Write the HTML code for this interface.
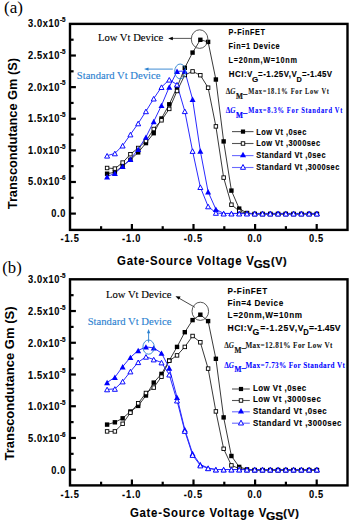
<!DOCTYPE html>
<html><head><meta charset="utf-8"><style>
html,body{margin:0;padding:0;background:#fff;}
body{width:350px;height:523px;overflow:hidden;}
svg{display:block;}
</style></head><body>
<svg width="350" height="523" viewBox="0 0 350 523">
<rect width="350" height="523" fill="#fff"/>
<rect x="70.0" y="23.9" width="277.5" height="206.00" fill="none" stroke="#000" stroke-width="2.4"/>
<line x1="70.0" y1="39.71" x2="73.6" y2="39.71" stroke="#000" stroke-width="2.2"/>
<line x1="70.0" y1="55.52" x2="75.9" y2="55.52" stroke="#000" stroke-width="2.2"/>
<line x1="70.0" y1="71.32" x2="73.6" y2="71.32" stroke="#000" stroke-width="2.2"/>
<line x1="70.0" y1="87.13" x2="75.9" y2="87.13" stroke="#000" stroke-width="2.2"/>
<line x1="70.0" y1="102.94" x2="73.6" y2="102.94" stroke="#000" stroke-width="2.2"/>
<line x1="70.0" y1="118.75" x2="75.9" y2="118.75" stroke="#000" stroke-width="2.2"/>
<line x1="70.0" y1="134.56" x2="73.6" y2="134.56" stroke="#000" stroke-width="2.2"/>
<line x1="70.0" y1="150.37" x2="75.9" y2="150.37" stroke="#000" stroke-width="2.2"/>
<line x1="70.0" y1="166.17" x2="73.6" y2="166.17" stroke="#000" stroke-width="2.2"/>
<line x1="70.0" y1="181.98" x2="75.9" y2="181.98" stroke="#000" stroke-width="2.2"/>
<line x1="70.0" y1="197.79" x2="73.6" y2="197.79" stroke="#000" stroke-width="2.2"/>
<line x1="70.0" y1="213.60" x2="75.9" y2="213.60" stroke="#000" stroke-width="2.2"/>
<line x1="101.10" y1="229.90" x2="101.10" y2="226.20" stroke="#000" stroke-width="2.2"/>
<line x1="131.90" y1="229.90" x2="131.90" y2="224.00" stroke="#000" stroke-width="2.2"/>
<line x1="162.70" y1="229.90" x2="162.70" y2="226.20" stroke="#000" stroke-width="2.2"/>
<line x1="193.50" y1="229.90" x2="193.50" y2="224.00" stroke="#000" stroke-width="2.2"/>
<line x1="224.30" y1="229.90" x2="224.30" y2="226.20" stroke="#000" stroke-width="2.2"/>
<line x1="255.10" y1="229.90" x2="255.10" y2="224.00" stroke="#000" stroke-width="2.2"/>
<line x1="285.90" y1="229.90" x2="285.90" y2="226.20" stroke="#000" stroke-width="2.2"/>
<line x1="316.70" y1="229.90" x2="316.70" y2="224.00" stroke="#000" stroke-width="2.2"/>
<text transform="scale(0.9,1)" x="31.11" y="27.40" font-family='"Liberation Sans", sans-serif' font-size="10.3" font-weight="bold" fill="#000" stroke="#000" stroke-width="0.1" textLength="34.89" lengthAdjust="spacing">3.0x10</text>
<text x="59.90" y="22.10" font-family='"Liberation Sans", sans-serif' font-size="6.3" font-weight="bold" fill="#000" text-anchor="start" textLength="5.60" lengthAdjust="spacingAndGlyphs" stroke="#000" stroke-width="0.2">-5</text>
<text transform="scale(0.9,1)" x="31.11" y="59.02" font-family='"Liberation Sans", sans-serif' font-size="10.3" font-weight="bold" fill="#000" stroke="#000" stroke-width="0.1" textLength="34.89" lengthAdjust="spacing">2.5x10</text>
<text x="59.90" y="53.72" font-family='"Liberation Sans", sans-serif' font-size="6.3" font-weight="bold" fill="#000" text-anchor="start" textLength="5.60" lengthAdjust="spacingAndGlyphs" stroke="#000" stroke-width="0.2">-5</text>
<text transform="scale(0.9,1)" x="31.11" y="90.63" font-family='"Liberation Sans", sans-serif' font-size="10.3" font-weight="bold" fill="#000" stroke="#000" stroke-width="0.1" textLength="34.89" lengthAdjust="spacing">2.0x10</text>
<text x="59.90" y="85.33" font-family='"Liberation Sans", sans-serif' font-size="6.3" font-weight="bold" fill="#000" text-anchor="start" textLength="5.60" lengthAdjust="spacingAndGlyphs" stroke="#000" stroke-width="0.2">-5</text>
<text transform="scale(0.9,1)" x="31.11" y="122.25" font-family='"Liberation Sans", sans-serif' font-size="10.3" font-weight="bold" fill="#000" stroke="#000" stroke-width="0.1" textLength="34.89" lengthAdjust="spacing">1.5x10</text>
<text x="59.90" y="116.95" font-family='"Liberation Sans", sans-serif' font-size="6.3" font-weight="bold" fill="#000" text-anchor="start" textLength="5.60" lengthAdjust="spacingAndGlyphs" stroke="#000" stroke-width="0.2">-5</text>
<text transform="scale(0.9,1)" x="31.11" y="153.87" font-family='"Liberation Sans", sans-serif' font-size="10.3" font-weight="bold" fill="#000" stroke="#000" stroke-width="0.1" textLength="34.89" lengthAdjust="spacing">1.0x10</text>
<text x="59.90" y="148.57" font-family='"Liberation Sans", sans-serif' font-size="6.3" font-weight="bold" fill="#000" text-anchor="start" textLength="5.60" lengthAdjust="spacingAndGlyphs" stroke="#000" stroke-width="0.2">-5</text>
<text transform="scale(0.9,1)" x="31.11" y="185.48" font-family='"Liberation Sans", sans-serif' font-size="10.3" font-weight="bold" fill="#000" stroke="#000" stroke-width="0.1" textLength="34.89" lengthAdjust="spacing">5.0x10</text>
<text x="59.90" y="180.18" font-family='"Liberation Sans", sans-serif' font-size="6.3" font-weight="bold" fill="#000" text-anchor="start" textLength="5.60" lengthAdjust="spacingAndGlyphs" stroke="#000" stroke-width="0.2">-6</text>
<text transform="scale(0.9,1)" x="57.00" y="217.10" font-family='"Liberation Sans", sans-serif' font-size="10.3" font-weight="bold" fill="#000" stroke="#000" stroke-width="0.1" textLength="15.56" lengthAdjust="spacing">0.0</text>
<text transform="scale(0.9,1)" x="67.22" y="242.30" font-family='"Liberation Sans", sans-serif' font-size="10.3" font-weight="bold" fill="#000" stroke="#000" stroke-width="0.1" textLength="20.44" lengthAdjust="spacing">-1.5</text>
<text transform="scale(0.9,1)" x="135.67" y="242.30" font-family='"Liberation Sans", sans-serif' font-size="10.3" font-weight="bold" fill="#000" stroke="#000" stroke-width="0.1" textLength="20.44" lengthAdjust="spacing">-1.0</text>
<text transform="scale(0.9,1)" x="204.11" y="242.30" font-family='"Liberation Sans", sans-serif' font-size="10.3" font-weight="bold" fill="#000" stroke="#000" stroke-width="0.1" textLength="20.44" lengthAdjust="spacing">-0.5</text>
<text transform="scale(0.9,1)" x="274.89" y="242.30" font-family='"Liberation Sans", sans-serif' font-size="10.3" font-weight="bold" fill="#000" stroke="#000" stroke-width="0.1" textLength="15.78" lengthAdjust="spacing">0.0</text>
<text transform="scale(0.9,1)" x="343.33" y="242.30" font-family='"Liberation Sans", sans-serif' font-size="10.3" font-weight="bold" fill="#000" stroke="#000" stroke-width="0.1" textLength="15.78" lengthAdjust="spacing">0.5</text>
<rect x="70.0" y="279.3" width="277.5" height="206.10" fill="none" stroke="#000" stroke-width="2.4"/>
<line x1="70.0" y1="295.17" x2="73.6" y2="295.17" stroke="#000" stroke-width="2.2"/>
<line x1="70.0" y1="311.03" x2="75.9" y2="311.03" stroke="#000" stroke-width="2.2"/>
<line x1="70.0" y1="326.90" x2="73.6" y2="326.90" stroke="#000" stroke-width="2.2"/>
<line x1="70.0" y1="342.77" x2="75.9" y2="342.77" stroke="#000" stroke-width="2.2"/>
<line x1="70.0" y1="358.63" x2="73.6" y2="358.63" stroke="#000" stroke-width="2.2"/>
<line x1="70.0" y1="374.50" x2="75.9" y2="374.50" stroke="#000" stroke-width="2.2"/>
<line x1="70.0" y1="390.37" x2="73.6" y2="390.37" stroke="#000" stroke-width="2.2"/>
<line x1="70.0" y1="406.23" x2="75.9" y2="406.23" stroke="#000" stroke-width="2.2"/>
<line x1="70.0" y1="422.10" x2="73.6" y2="422.10" stroke="#000" stroke-width="2.2"/>
<line x1="70.0" y1="437.97" x2="75.9" y2="437.97" stroke="#000" stroke-width="2.2"/>
<line x1="70.0" y1="453.83" x2="73.6" y2="453.83" stroke="#000" stroke-width="2.2"/>
<line x1="70.0" y1="469.70" x2="75.9" y2="469.70" stroke="#000" stroke-width="2.2"/>
<line x1="101.10" y1="485.40" x2="101.10" y2="481.70" stroke="#000" stroke-width="2.2"/>
<line x1="131.90" y1="485.40" x2="131.90" y2="479.50" stroke="#000" stroke-width="2.2"/>
<line x1="162.70" y1="485.40" x2="162.70" y2="481.70" stroke="#000" stroke-width="2.2"/>
<line x1="193.50" y1="485.40" x2="193.50" y2="479.50" stroke="#000" stroke-width="2.2"/>
<line x1="224.30" y1="485.40" x2="224.30" y2="481.70" stroke="#000" stroke-width="2.2"/>
<line x1="255.10" y1="485.40" x2="255.10" y2="479.50" stroke="#000" stroke-width="2.2"/>
<line x1="285.90" y1="485.40" x2="285.90" y2="481.70" stroke="#000" stroke-width="2.2"/>
<line x1="316.70" y1="485.40" x2="316.70" y2="479.50" stroke="#000" stroke-width="2.2"/>
<text transform="scale(0.9,1)" x="31.11" y="283.40" font-family='"Liberation Sans", sans-serif' font-size="10.3" font-weight="bold" fill="#000" stroke="#000" stroke-width="0.1" textLength="34.89" lengthAdjust="spacing">3.0x10</text>
<text x="59.90" y="278.10" font-family='"Liberation Sans", sans-serif' font-size="6.3" font-weight="bold" fill="#000" text-anchor="start" textLength="5.60" lengthAdjust="spacingAndGlyphs" stroke="#000" stroke-width="0.2">-5</text>
<text transform="scale(0.9,1)" x="31.11" y="315.13" font-family='"Liberation Sans", sans-serif' font-size="10.3" font-weight="bold" fill="#000" stroke="#000" stroke-width="0.1" textLength="34.89" lengthAdjust="spacing">2.5x10</text>
<text x="59.90" y="309.83" font-family='"Liberation Sans", sans-serif' font-size="6.3" font-weight="bold" fill="#000" text-anchor="start" textLength="5.60" lengthAdjust="spacingAndGlyphs" stroke="#000" stroke-width="0.2">-5</text>
<text transform="scale(0.9,1)" x="31.11" y="346.87" font-family='"Liberation Sans", sans-serif' font-size="10.3" font-weight="bold" fill="#000" stroke="#000" stroke-width="0.1" textLength="34.89" lengthAdjust="spacing">2.0x10</text>
<text x="59.90" y="341.57" font-family='"Liberation Sans", sans-serif' font-size="6.3" font-weight="bold" fill="#000" text-anchor="start" textLength="5.60" lengthAdjust="spacingAndGlyphs" stroke="#000" stroke-width="0.2">-5</text>
<text transform="scale(0.9,1)" x="31.11" y="378.60" font-family='"Liberation Sans", sans-serif' font-size="10.3" font-weight="bold" fill="#000" stroke="#000" stroke-width="0.1" textLength="34.89" lengthAdjust="spacing">1.5x10</text>
<text x="59.90" y="373.30" font-family='"Liberation Sans", sans-serif' font-size="6.3" font-weight="bold" fill="#000" text-anchor="start" textLength="5.60" lengthAdjust="spacingAndGlyphs" stroke="#000" stroke-width="0.2">-5</text>
<text transform="scale(0.9,1)" x="31.11" y="410.33" font-family='"Liberation Sans", sans-serif' font-size="10.3" font-weight="bold" fill="#000" stroke="#000" stroke-width="0.1" textLength="34.89" lengthAdjust="spacing">1.0x10</text>
<text x="59.90" y="405.03" font-family='"Liberation Sans", sans-serif' font-size="6.3" font-weight="bold" fill="#000" text-anchor="start" textLength="5.60" lengthAdjust="spacingAndGlyphs" stroke="#000" stroke-width="0.2">-5</text>
<text transform="scale(0.9,1)" x="31.11" y="442.07" font-family='"Liberation Sans", sans-serif' font-size="10.3" font-weight="bold" fill="#000" stroke="#000" stroke-width="0.1" textLength="34.89" lengthAdjust="spacing">5.0x10</text>
<text x="59.90" y="436.77" font-family='"Liberation Sans", sans-serif' font-size="6.3" font-weight="bold" fill="#000" text-anchor="start" textLength="5.60" lengthAdjust="spacingAndGlyphs" stroke="#000" stroke-width="0.2">-6</text>
<text transform="scale(0.9,1)" x="57.00" y="473.80" font-family='"Liberation Sans", sans-serif' font-size="10.3" font-weight="bold" fill="#000" stroke="#000" stroke-width="0.1" textLength="15.56" lengthAdjust="spacing">0.0</text>
<text transform="scale(0.9,1)" x="67.22" y="497.80" font-family='"Liberation Sans", sans-serif' font-size="10.3" font-weight="bold" fill="#000" stroke="#000" stroke-width="0.1" textLength="20.44" lengthAdjust="spacing">-1.5</text>
<text transform="scale(0.9,1)" x="135.67" y="497.80" font-family='"Liberation Sans", sans-serif' font-size="10.3" font-weight="bold" fill="#000" stroke="#000" stroke-width="0.1" textLength="20.44" lengthAdjust="spacing">-1.0</text>
<text transform="scale(0.9,1)" x="204.11" y="497.80" font-family='"Liberation Sans", sans-serif' font-size="10.3" font-weight="bold" fill="#000" stroke="#000" stroke-width="0.1" textLength="20.44" lengthAdjust="spacing">-0.5</text>
<text transform="scale(0.9,1)" x="274.89" y="497.80" font-family='"Liberation Sans", sans-serif' font-size="10.3" font-weight="bold" fill="#000" stroke="#000" stroke-width="0.1" textLength="15.78" lengthAdjust="spacing">0.0</text>
<text transform="scale(0.9,1)" x="343.33" y="497.80" font-family='"Liberation Sans", sans-serif' font-size="10.3" font-weight="bold" fill="#000" stroke="#000" stroke-width="0.1" textLength="15.78" lengthAdjust="spacing">0.5</text>
<polyline points="107.10,173.70 114.87,172.30 122.64,165.80 130.41,159.80 138.18,152.40 145.95,143.10 153.72,133.20 161.49,118.50 169.26,104.30 177.03,87.40 184.80,67.80 192.57,52.60 200.34,39.80 208.11,41.90 215.88,79.50 223.65,141.40 231.42,190.60 239.19,208.60 246.96,213.00 254.73,214.00 262.50,214.00 270.27,214.00 278.04,214.00 285.81,214.00 293.58,214.00 301.35,214.00 309.12,214.00 316.89,214.00" fill="none" stroke="#222" stroke-width="0.9"/>
<polyline points="107.10,168.00 114.87,168.60 122.64,162.60 130.41,154.20 138.18,148.00 145.95,141.00 153.72,129.00 161.49,120.30 169.26,108.90 177.03,91.00 184.80,75.00 192.57,71.40 200.34,75.20 208.11,87.70 215.88,126.40 223.65,177.60 231.42,204.70 239.19,211.00 246.96,213.60 254.73,214.00 262.50,214.00 270.27,214.00 278.04,214.00 285.81,214.00 293.58,214.00 301.35,214.00 309.12,214.00 316.89,214.00" fill="none" stroke="#222" stroke-width="0.9"/>
<polyline points="107.10,176.70 114.87,173.30 122.64,166.40 130.41,159.30 138.18,149.20 145.95,137.10 153.72,121.50 161.49,105.40 169.26,87.00 177.03,71.30 184.80,71.10 192.57,99.20 200.34,151.00 208.11,191.80 215.88,209.30 223.65,213.40 231.42,213.40 239.19,213.40 246.96,213.40 254.73,213.40 262.50,213.40 270.27,213.40 278.04,213.40 285.81,213.40 293.58,213.40 301.35,213.40 309.12,213.40 316.89,213.40" fill="none" stroke="#2a2aff" stroke-width="1.0"/>
<polyline points="107.10,155.70 114.87,153.40 122.64,145.60 130.41,134.50 138.18,123.40 145.95,111.30 153.72,98.60 161.49,87.10 169.26,79.70 177.03,84.60 184.80,111.20 192.57,151.00 200.34,187.10 208.11,206.40 215.88,212.90 223.65,213.60 231.42,213.60 239.19,213.60 246.96,213.60 254.73,213.60 262.50,213.60 270.27,213.60 278.04,213.60 285.81,213.60 293.58,213.60 301.35,213.60 309.12,213.60 316.89,213.60" fill="none" stroke="#2a2aff" stroke-width="1.0"/>
<rect x="104.90" y="171.50" width="4.4" height="4.4" fill="#000"/>
<rect x="112.67" y="170.10" width="4.4" height="4.4" fill="#000"/>
<rect x="120.44" y="163.60" width="4.4" height="4.4" fill="#000"/>
<rect x="128.21" y="157.60" width="4.4" height="4.4" fill="#000"/>
<rect x="135.98" y="150.20" width="4.4" height="4.4" fill="#000"/>
<rect x="143.75" y="140.90" width="4.4" height="4.4" fill="#000"/>
<rect x="151.52" y="131.00" width="4.4" height="4.4" fill="#000"/>
<rect x="159.29" y="116.30" width="4.4" height="4.4" fill="#000"/>
<rect x="167.06" y="102.10" width="4.4" height="4.4" fill="#000"/>
<rect x="174.83" y="85.20" width="4.4" height="4.4" fill="#000"/>
<rect x="182.60" y="65.60" width="4.4" height="4.4" fill="#000"/>
<rect x="190.37" y="50.40" width="4.4" height="4.4" fill="#000"/>
<rect x="198.14" y="37.60" width="4.4" height="4.4" fill="#000"/>
<rect x="205.91" y="39.70" width="4.4" height="4.4" fill="#000"/>
<rect x="213.68" y="77.30" width="4.4" height="4.4" fill="#000"/>
<rect x="221.45" y="139.20" width="4.4" height="4.4" fill="#000"/>
<rect x="229.22" y="188.40" width="4.4" height="4.4" fill="#000"/>
<rect x="236.99" y="206.40" width="4.4" height="4.4" fill="#000"/>
<rect x="244.76" y="210.80" width="4.4" height="4.4" fill="#000"/>
<rect x="252.53" y="211.80" width="4.4" height="4.4" fill="#000"/>
<rect x="260.30" y="211.80" width="4.4" height="4.4" fill="#000"/>
<rect x="268.07" y="211.80" width="4.4" height="4.4" fill="#000"/>
<rect x="275.84" y="211.80" width="4.4" height="4.4" fill="#000"/>
<rect x="283.61" y="211.80" width="4.4" height="4.4" fill="#000"/>
<rect x="291.38" y="211.80" width="4.4" height="4.4" fill="#000"/>
<rect x="299.15" y="211.80" width="4.4" height="4.4" fill="#000"/>
<rect x="306.92" y="211.80" width="4.4" height="4.4" fill="#000"/>
<rect x="314.69" y="211.80" width="4.4" height="4.4" fill="#000"/>
<rect x="105.35" y="166.25" width="3.50" height="3.50" fill="#fff" stroke="#000" stroke-width="0.9"/>
<rect x="113.12" y="166.85" width="3.50" height="3.50" fill="#fff" stroke="#000" stroke-width="0.9"/>
<rect x="120.89" y="160.85" width="3.50" height="3.50" fill="#fff" stroke="#000" stroke-width="0.9"/>
<rect x="128.66" y="152.45" width="3.50" height="3.50" fill="#fff" stroke="#000" stroke-width="0.9"/>
<rect x="136.43" y="146.25" width="3.50" height="3.50" fill="#fff" stroke="#000" stroke-width="0.9"/>
<rect x="144.20" y="139.25" width="3.50" height="3.50" fill="#fff" stroke="#000" stroke-width="0.9"/>
<rect x="151.97" y="127.25" width="3.50" height="3.50" fill="#fff" stroke="#000" stroke-width="0.9"/>
<rect x="159.74" y="118.55" width="3.50" height="3.50" fill="#fff" stroke="#000" stroke-width="0.9"/>
<rect x="167.51" y="107.15" width="3.50" height="3.50" fill="#fff" stroke="#000" stroke-width="0.9"/>
<rect x="175.28" y="89.25" width="3.50" height="3.50" fill="#fff" stroke="#000" stroke-width="0.9"/>
<rect x="183.05" y="73.25" width="3.50" height="3.50" fill="#fff" stroke="#000" stroke-width="0.9"/>
<rect x="190.82" y="69.65" width="3.50" height="3.50" fill="#fff" stroke="#000" stroke-width="0.9"/>
<rect x="198.59" y="73.45" width="3.50" height="3.50" fill="#fff" stroke="#000" stroke-width="0.9"/>
<rect x="206.36" y="85.95" width="3.50" height="3.50" fill="#fff" stroke="#000" stroke-width="0.9"/>
<rect x="214.13" y="124.65" width="3.50" height="3.50" fill="#fff" stroke="#000" stroke-width="0.9"/>
<rect x="221.90" y="175.85" width="3.50" height="3.50" fill="#fff" stroke="#000" stroke-width="0.9"/>
<rect x="229.67" y="202.95" width="3.50" height="3.50" fill="#fff" stroke="#000" stroke-width="0.9"/>
<rect x="237.44" y="209.25" width="3.50" height="3.50" fill="#fff" stroke="#000" stroke-width="0.9"/>
<rect x="245.21" y="211.85" width="3.50" height="3.50" fill="#fff" stroke="#000" stroke-width="0.9"/>
<rect x="252.98" y="212.25" width="3.50" height="3.50" fill="#fff" stroke="#000" stroke-width="0.9"/>
<rect x="260.75" y="212.25" width="3.50" height="3.50" fill="#fff" stroke="#000" stroke-width="0.9"/>
<rect x="268.52" y="212.25" width="3.50" height="3.50" fill="#fff" stroke="#000" stroke-width="0.9"/>
<rect x="276.29" y="212.25" width="3.50" height="3.50" fill="#fff" stroke="#000" stroke-width="0.9"/>
<rect x="284.06" y="212.25" width="3.50" height="3.50" fill="#fff" stroke="#000" stroke-width="0.9"/>
<rect x="291.83" y="212.25" width="3.50" height="3.50" fill="#fff" stroke="#000" stroke-width="0.9"/>
<rect x="299.60" y="212.25" width="3.50" height="3.50" fill="#fff" stroke="#000" stroke-width="0.9"/>
<rect x="307.37" y="212.25" width="3.50" height="3.50" fill="#fff" stroke="#000" stroke-width="0.9"/>
<rect x="315.14" y="212.25" width="3.50" height="3.50" fill="#fff" stroke="#000" stroke-width="0.9"/>
<polygon points="107.10,174.00 110.10,179.40 104.10,179.40" fill="#0000ff"/>
<polygon points="114.87,170.60 117.87,176.00 111.87,176.00" fill="#0000ff"/>
<polygon points="122.64,163.70 125.64,169.10 119.64,169.10" fill="#0000ff"/>
<polygon points="130.41,156.60 133.41,162.00 127.41,162.00" fill="#0000ff"/>
<polygon points="138.18,146.50 141.18,151.90 135.18,151.90" fill="#0000ff"/>
<polygon points="145.95,134.40 148.95,139.80 142.95,139.80" fill="#0000ff"/>
<polygon points="153.72,118.80 156.72,124.20 150.72,124.20" fill="#0000ff"/>
<polygon points="161.49,102.70 164.49,108.10 158.49,108.10" fill="#0000ff"/>
<polygon points="169.26,84.30 172.26,89.70 166.26,89.70" fill="#0000ff"/>
<polygon points="177.03,68.60 180.03,74.00 174.03,74.00" fill="#0000ff"/>
<polygon points="184.80,68.40 187.80,73.80 181.80,73.80" fill="#0000ff"/>
<polygon points="192.57,96.50 195.57,101.90 189.57,101.90" fill="#0000ff"/>
<polygon points="200.34,148.30 203.34,153.70 197.34,153.70" fill="#0000ff"/>
<polygon points="208.11,189.10 211.11,194.50 205.11,194.50" fill="#0000ff"/>
<polygon points="215.88,206.60 218.88,212.00 212.88,212.00" fill="#0000ff"/>
<polygon points="223.65,210.70 226.65,216.10 220.65,216.10" fill="#0000ff"/>
<polygon points="231.42,210.70 234.42,216.10 228.42,216.10" fill="#0000ff"/>
<polygon points="239.19,210.70 242.19,216.10 236.19,216.10" fill="#0000ff"/>
<polygon points="246.96,210.70 249.96,216.10 243.96,216.10" fill="#0000ff"/>
<polygon points="254.73,210.70 257.73,216.10 251.73,216.10" fill="#0000ff"/>
<polygon points="262.50,210.70 265.50,216.10 259.50,216.10" fill="#0000ff"/>
<polygon points="270.27,210.70 273.27,216.10 267.27,216.10" fill="#0000ff"/>
<polygon points="278.04,210.70 281.04,216.10 275.04,216.10" fill="#0000ff"/>
<polygon points="285.81,210.70 288.81,216.10 282.81,216.10" fill="#0000ff"/>
<polygon points="293.58,210.70 296.58,216.10 290.58,216.10" fill="#0000ff"/>
<polygon points="301.35,210.70 304.35,216.10 298.35,216.10" fill="#0000ff"/>
<polygon points="309.12,210.70 312.12,216.10 306.12,216.10" fill="#0000ff"/>
<polygon points="316.89,210.70 319.89,216.10 313.89,216.10" fill="#0000ff"/>
<polygon points="107.10,153.50 109.60,158.10 104.60,158.10" fill="#fff" stroke="#0000ff" stroke-width="0.95"/>
<polygon points="114.87,151.20 117.37,155.80 112.37,155.80" fill="#fff" stroke="#0000ff" stroke-width="0.95"/>
<polygon points="122.64,143.40 125.14,148.00 120.14,148.00" fill="#fff" stroke="#0000ff" stroke-width="0.95"/>
<polygon points="130.41,132.30 132.91,136.90 127.91,136.90" fill="#fff" stroke="#0000ff" stroke-width="0.95"/>
<polygon points="138.18,121.20 140.68,125.80 135.68,125.80" fill="#fff" stroke="#0000ff" stroke-width="0.95"/>
<polygon points="145.95,109.10 148.45,113.70 143.45,113.70" fill="#fff" stroke="#0000ff" stroke-width="0.95"/>
<polygon points="153.72,96.40 156.22,101.00 151.22,101.00" fill="#fff" stroke="#0000ff" stroke-width="0.95"/>
<polygon points="161.49,84.90 163.99,89.50 158.99,89.50" fill="#fff" stroke="#0000ff" stroke-width="0.95"/>
<polygon points="169.26,77.50 171.76,82.10 166.76,82.10" fill="#fff" stroke="#0000ff" stroke-width="0.95"/>
<polygon points="177.03,82.40 179.53,87.00 174.53,87.00" fill="#fff" stroke="#0000ff" stroke-width="0.95"/>
<polygon points="184.80,109.00 187.30,113.60 182.30,113.60" fill="#fff" stroke="#0000ff" stroke-width="0.95"/>
<polygon points="192.57,148.80 195.07,153.40 190.07,153.40" fill="#fff" stroke="#0000ff" stroke-width="0.95"/>
<polygon points="200.34,184.90 202.84,189.50 197.84,189.50" fill="#fff" stroke="#0000ff" stroke-width="0.95"/>
<polygon points="208.11,204.20 210.61,208.80 205.61,208.80" fill="#fff" stroke="#0000ff" stroke-width="0.95"/>
<polygon points="215.88,210.70 218.38,215.30 213.38,215.30" fill="#fff" stroke="#0000ff" stroke-width="0.95"/>
<polygon points="223.65,211.40 226.15,216.00 221.15,216.00" fill="#fff" stroke="#0000ff" stroke-width="0.95"/>
<polygon points="231.42,211.40 233.92,216.00 228.92,216.00" fill="#fff" stroke="#0000ff" stroke-width="0.95"/>
<polygon points="239.19,211.40 241.69,216.00 236.69,216.00" fill="#fff" stroke="#0000ff" stroke-width="0.95"/>
<polygon points="246.96,211.40 249.46,216.00 244.46,216.00" fill="#fff" stroke="#0000ff" stroke-width="0.95"/>
<polygon points="254.73,211.40 257.23,216.00 252.23,216.00" fill="#fff" stroke="#0000ff" stroke-width="0.95"/>
<polygon points="262.50,211.40 265.00,216.00 260.00,216.00" fill="#fff" stroke="#0000ff" stroke-width="0.95"/>
<polygon points="270.27,211.40 272.77,216.00 267.77,216.00" fill="#fff" stroke="#0000ff" stroke-width="0.95"/>
<polygon points="278.04,211.40 280.54,216.00 275.54,216.00" fill="#fff" stroke="#0000ff" stroke-width="0.95"/>
<polygon points="285.81,211.40 288.31,216.00 283.31,216.00" fill="#fff" stroke="#0000ff" stroke-width="0.95"/>
<polygon points="293.58,211.40 296.08,216.00 291.08,216.00" fill="#fff" stroke="#0000ff" stroke-width="0.95"/>
<polygon points="301.35,211.40 303.85,216.00 298.85,216.00" fill="#fff" stroke="#0000ff" stroke-width="0.95"/>
<polygon points="309.12,211.40 311.62,216.00 306.62,216.00" fill="#fff" stroke="#0000ff" stroke-width="0.95"/>
<polygon points="316.89,211.40 319.39,216.00 314.39,216.00" fill="#fff" stroke="#0000ff" stroke-width="0.95"/>
<polyline points="107.10,424.60 114.87,422.30 122.64,418.30 130.41,411.50 138.18,405.90 145.95,395.50 153.72,382.60 161.49,373.90 169.26,360.50 177.03,346.90 184.80,332.20 192.57,320.10 200.34,314.70 208.11,321.10 215.88,358.80 223.65,417.40 231.42,456.00 239.19,466.90 246.96,469.40 254.73,470.10 262.50,470.10 270.27,470.10 278.04,470.10 285.81,470.10 293.58,470.10 301.35,470.10 309.12,470.10 316.89,470.10" fill="none" stroke="#222" stroke-width="0.9"/>
<polyline points="107.10,431.40 114.87,431.40 122.64,423.80 130.41,412.70 138.18,403.30 145.95,393.00 153.72,387.60 161.49,376.70 169.26,360.80 177.03,355.40 184.80,346.90 192.57,336.00 200.34,342.30 208.11,368.60 215.88,411.40 223.65,448.80 231.42,465.40 239.19,468.50 246.96,470.10 254.73,470.10 262.50,470.10 270.27,470.10 278.04,470.10 285.81,470.10 293.58,470.10 301.35,470.10 309.12,470.10 316.89,470.10" fill="none" stroke="#222" stroke-width="0.9"/>
<polyline points="107.10,382.50 114.87,377.30 122.64,366.70 130.41,357.40 138.18,350.50 145.95,346.90 153.72,347.90 161.49,353.10 169.26,368.00 177.03,397.40 184.80,429.50 192.57,453.50 200.34,464.50 208.11,468.00 215.88,469.50 223.65,469.50 231.42,469.50 239.19,469.50 246.96,469.50 254.73,469.50 262.50,469.50 270.27,469.50 278.04,469.50 285.81,469.50 293.58,469.50 301.35,469.50 309.12,469.50 316.89,469.50" fill="none" stroke="#2a2aff" stroke-width="1.0"/>
<polyline points="107.10,389.40 114.87,388.90 122.64,381.50 130.41,371.50 138.18,362.20 145.95,356.80 153.72,359.50 161.49,362.50 169.26,374.60 177.03,400.60 184.80,431.00 192.57,455.00 200.34,465.50 208.11,468.30 215.88,469.60 223.65,469.60 231.42,469.60 239.19,469.60 246.96,469.60 254.73,469.60 262.50,469.60 270.27,469.60 278.04,469.60 285.81,469.60 293.58,469.60 301.35,469.60 309.12,469.60 316.89,469.60" fill="none" stroke="#2a2aff" stroke-width="1.0"/>
<rect x="104.90" y="422.40" width="4.4" height="4.4" fill="#000"/>
<rect x="112.67" y="420.10" width="4.4" height="4.4" fill="#000"/>
<rect x="120.44" y="416.10" width="4.4" height="4.4" fill="#000"/>
<rect x="128.21" y="409.30" width="4.4" height="4.4" fill="#000"/>
<rect x="135.98" y="403.70" width="4.4" height="4.4" fill="#000"/>
<rect x="143.75" y="393.30" width="4.4" height="4.4" fill="#000"/>
<rect x="151.52" y="380.40" width="4.4" height="4.4" fill="#000"/>
<rect x="159.29" y="371.70" width="4.4" height="4.4" fill="#000"/>
<rect x="167.06" y="358.30" width="4.4" height="4.4" fill="#000"/>
<rect x="174.83" y="344.70" width="4.4" height="4.4" fill="#000"/>
<rect x="182.60" y="330.00" width="4.4" height="4.4" fill="#000"/>
<rect x="190.37" y="317.90" width="4.4" height="4.4" fill="#000"/>
<rect x="198.14" y="312.50" width="4.4" height="4.4" fill="#000"/>
<rect x="205.91" y="318.90" width="4.4" height="4.4" fill="#000"/>
<rect x="213.68" y="356.60" width="4.4" height="4.4" fill="#000"/>
<rect x="221.45" y="415.20" width="4.4" height="4.4" fill="#000"/>
<rect x="229.22" y="453.80" width="4.4" height="4.4" fill="#000"/>
<rect x="236.99" y="464.70" width="4.4" height="4.4" fill="#000"/>
<rect x="244.76" y="467.20" width="4.4" height="4.4" fill="#000"/>
<rect x="252.53" y="467.90" width="4.4" height="4.4" fill="#000"/>
<rect x="260.30" y="467.90" width="4.4" height="4.4" fill="#000"/>
<rect x="268.07" y="467.90" width="4.4" height="4.4" fill="#000"/>
<rect x="275.84" y="467.90" width="4.4" height="4.4" fill="#000"/>
<rect x="283.61" y="467.90" width="4.4" height="4.4" fill="#000"/>
<rect x="291.38" y="467.90" width="4.4" height="4.4" fill="#000"/>
<rect x="299.15" y="467.90" width="4.4" height="4.4" fill="#000"/>
<rect x="306.92" y="467.90" width="4.4" height="4.4" fill="#000"/>
<rect x="314.69" y="467.90" width="4.4" height="4.4" fill="#000"/>
<rect x="105.35" y="429.65" width="3.50" height="3.50" fill="#fff" stroke="#000" stroke-width="0.9"/>
<rect x="113.12" y="429.65" width="3.50" height="3.50" fill="#fff" stroke="#000" stroke-width="0.9"/>
<rect x="120.89" y="422.05" width="3.50" height="3.50" fill="#fff" stroke="#000" stroke-width="0.9"/>
<rect x="128.66" y="410.95" width="3.50" height="3.50" fill="#fff" stroke="#000" stroke-width="0.9"/>
<rect x="136.43" y="401.55" width="3.50" height="3.50" fill="#fff" stroke="#000" stroke-width="0.9"/>
<rect x="144.20" y="391.25" width="3.50" height="3.50" fill="#fff" stroke="#000" stroke-width="0.9"/>
<rect x="151.97" y="385.85" width="3.50" height="3.50" fill="#fff" stroke="#000" stroke-width="0.9"/>
<rect x="159.74" y="374.95" width="3.50" height="3.50" fill="#fff" stroke="#000" stroke-width="0.9"/>
<rect x="167.51" y="359.05" width="3.50" height="3.50" fill="#fff" stroke="#000" stroke-width="0.9"/>
<rect x="175.28" y="353.65" width="3.50" height="3.50" fill="#fff" stroke="#000" stroke-width="0.9"/>
<rect x="183.05" y="345.15" width="3.50" height="3.50" fill="#fff" stroke="#000" stroke-width="0.9"/>
<rect x="190.82" y="334.25" width="3.50" height="3.50" fill="#fff" stroke="#000" stroke-width="0.9"/>
<rect x="198.59" y="340.55" width="3.50" height="3.50" fill="#fff" stroke="#000" stroke-width="0.9"/>
<rect x="206.36" y="366.85" width="3.50" height="3.50" fill="#fff" stroke="#000" stroke-width="0.9"/>
<rect x="214.13" y="409.65" width="3.50" height="3.50" fill="#fff" stroke="#000" stroke-width="0.9"/>
<rect x="221.90" y="447.05" width="3.50" height="3.50" fill="#fff" stroke="#000" stroke-width="0.9"/>
<rect x="229.67" y="463.65" width="3.50" height="3.50" fill="#fff" stroke="#000" stroke-width="0.9"/>
<rect x="237.44" y="466.75" width="3.50" height="3.50" fill="#fff" stroke="#000" stroke-width="0.9"/>
<rect x="245.21" y="468.35" width="3.50" height="3.50" fill="#fff" stroke="#000" stroke-width="0.9"/>
<rect x="252.98" y="468.35" width="3.50" height="3.50" fill="#fff" stroke="#000" stroke-width="0.9"/>
<rect x="260.75" y="468.35" width="3.50" height="3.50" fill="#fff" stroke="#000" stroke-width="0.9"/>
<rect x="268.52" y="468.35" width="3.50" height="3.50" fill="#fff" stroke="#000" stroke-width="0.9"/>
<rect x="276.29" y="468.35" width="3.50" height="3.50" fill="#fff" stroke="#000" stroke-width="0.9"/>
<rect x="284.06" y="468.35" width="3.50" height="3.50" fill="#fff" stroke="#000" stroke-width="0.9"/>
<rect x="291.83" y="468.35" width="3.50" height="3.50" fill="#fff" stroke="#000" stroke-width="0.9"/>
<rect x="299.60" y="468.35" width="3.50" height="3.50" fill="#fff" stroke="#000" stroke-width="0.9"/>
<rect x="307.37" y="468.35" width="3.50" height="3.50" fill="#fff" stroke="#000" stroke-width="0.9"/>
<rect x="315.14" y="468.35" width="3.50" height="3.50" fill="#fff" stroke="#000" stroke-width="0.9"/>
<polygon points="107.10,379.80 110.10,385.20 104.10,385.20" fill="#0000ff"/>
<polygon points="114.87,374.60 117.87,380.00 111.87,380.00" fill="#0000ff"/>
<polygon points="122.64,364.00 125.64,369.40 119.64,369.40" fill="#0000ff"/>
<polygon points="130.41,354.70 133.41,360.10 127.41,360.10" fill="#0000ff"/>
<polygon points="138.18,347.80 141.18,353.20 135.18,353.20" fill="#0000ff"/>
<polygon points="145.95,344.20 148.95,349.60 142.95,349.60" fill="#0000ff"/>
<polygon points="153.72,345.20 156.72,350.60 150.72,350.60" fill="#0000ff"/>
<polygon points="161.49,350.40 164.49,355.80 158.49,355.80" fill="#0000ff"/>
<polygon points="169.26,365.30 172.26,370.70 166.26,370.70" fill="#0000ff"/>
<polygon points="177.03,394.70 180.03,400.10 174.03,400.10" fill="#0000ff"/>
<polygon points="184.80,426.80 187.80,432.20 181.80,432.20" fill="#0000ff"/>
<polygon points="192.57,450.80 195.57,456.20 189.57,456.20" fill="#0000ff"/>
<polygon points="200.34,461.80 203.34,467.20 197.34,467.20" fill="#0000ff"/>
<polygon points="208.11,465.30 211.11,470.70 205.11,470.70" fill="#0000ff"/>
<polygon points="215.88,466.80 218.88,472.20 212.88,472.20" fill="#0000ff"/>
<polygon points="223.65,466.80 226.65,472.20 220.65,472.20" fill="#0000ff"/>
<polygon points="231.42,466.80 234.42,472.20 228.42,472.20" fill="#0000ff"/>
<polygon points="239.19,466.80 242.19,472.20 236.19,472.20" fill="#0000ff"/>
<polygon points="246.96,466.80 249.96,472.20 243.96,472.20" fill="#0000ff"/>
<polygon points="254.73,466.80 257.73,472.20 251.73,472.20" fill="#0000ff"/>
<polygon points="262.50,466.80 265.50,472.20 259.50,472.20" fill="#0000ff"/>
<polygon points="270.27,466.80 273.27,472.20 267.27,472.20" fill="#0000ff"/>
<polygon points="278.04,466.80 281.04,472.20 275.04,472.20" fill="#0000ff"/>
<polygon points="285.81,466.80 288.81,472.20 282.81,472.20" fill="#0000ff"/>
<polygon points="293.58,466.80 296.58,472.20 290.58,472.20" fill="#0000ff"/>
<polygon points="301.35,466.80 304.35,472.20 298.35,472.20" fill="#0000ff"/>
<polygon points="309.12,466.80 312.12,472.20 306.12,472.20" fill="#0000ff"/>
<polygon points="316.89,466.80 319.89,472.20 313.89,472.20" fill="#0000ff"/>
<polygon points="107.10,387.20 109.60,391.80 104.60,391.80" fill="#fff" stroke="#0000ff" stroke-width="0.95"/>
<polygon points="114.87,386.70 117.37,391.30 112.37,391.30" fill="#fff" stroke="#0000ff" stroke-width="0.95"/>
<polygon points="122.64,379.30 125.14,383.90 120.14,383.90" fill="#fff" stroke="#0000ff" stroke-width="0.95"/>
<polygon points="130.41,369.30 132.91,373.90 127.91,373.90" fill="#fff" stroke="#0000ff" stroke-width="0.95"/>
<polygon points="138.18,360.00 140.68,364.60 135.68,364.60" fill="#fff" stroke="#0000ff" stroke-width="0.95"/>
<polygon points="145.95,354.60 148.45,359.20 143.45,359.20" fill="#fff" stroke="#0000ff" stroke-width="0.95"/>
<polygon points="153.72,357.30 156.22,361.90 151.22,361.90" fill="#fff" stroke="#0000ff" stroke-width="0.95"/>
<polygon points="161.49,360.30 163.99,364.90 158.99,364.90" fill="#fff" stroke="#0000ff" stroke-width="0.95"/>
<polygon points="169.26,372.40 171.76,377.00 166.76,377.00" fill="#fff" stroke="#0000ff" stroke-width="0.95"/>
<polygon points="177.03,398.40 179.53,403.00 174.53,403.00" fill="#fff" stroke="#0000ff" stroke-width="0.95"/>
<polygon points="184.80,428.80 187.30,433.40 182.30,433.40" fill="#fff" stroke="#0000ff" stroke-width="0.95"/>
<polygon points="192.57,452.80 195.07,457.40 190.07,457.40" fill="#fff" stroke="#0000ff" stroke-width="0.95"/>
<polygon points="200.34,463.30 202.84,467.90 197.84,467.90" fill="#fff" stroke="#0000ff" stroke-width="0.95"/>
<polygon points="208.11,466.10 210.61,470.70 205.61,470.70" fill="#fff" stroke="#0000ff" stroke-width="0.95"/>
<polygon points="215.88,467.40 218.38,472.00 213.38,472.00" fill="#fff" stroke="#0000ff" stroke-width="0.95"/>
<polygon points="223.65,467.40 226.15,472.00 221.15,472.00" fill="#fff" stroke="#0000ff" stroke-width="0.95"/>
<polygon points="231.42,467.40 233.92,472.00 228.92,472.00" fill="#fff" stroke="#0000ff" stroke-width="0.95"/>
<polygon points="239.19,467.40 241.69,472.00 236.69,472.00" fill="#fff" stroke="#0000ff" stroke-width="0.95"/>
<polygon points="246.96,467.40 249.46,472.00 244.46,472.00" fill="#fff" stroke="#0000ff" stroke-width="0.95"/>
<polygon points="254.73,467.40 257.23,472.00 252.23,472.00" fill="#fff" stroke="#0000ff" stroke-width="0.95"/>
<polygon points="262.50,467.40 265.00,472.00 260.00,472.00" fill="#fff" stroke="#0000ff" stroke-width="0.95"/>
<polygon points="270.27,467.40 272.77,472.00 267.77,472.00" fill="#fff" stroke="#0000ff" stroke-width="0.95"/>
<polygon points="278.04,467.40 280.54,472.00 275.54,472.00" fill="#fff" stroke="#0000ff" stroke-width="0.95"/>
<polygon points="285.81,467.40 288.31,472.00 283.31,472.00" fill="#fff" stroke="#0000ff" stroke-width="0.95"/>
<polygon points="293.58,467.40 296.08,472.00 291.08,472.00" fill="#fff" stroke="#0000ff" stroke-width="0.95"/>
<polygon points="301.35,467.40 303.85,472.00 298.85,472.00" fill="#fff" stroke="#0000ff" stroke-width="0.95"/>
<polygon points="309.12,467.40 311.62,472.00 306.62,472.00" fill="#fff" stroke="#0000ff" stroke-width="0.95"/>
<polygon points="316.89,467.40 319.39,472.00 314.39,472.00" fill="#fff" stroke="#0000ff" stroke-width="0.95"/>
<text x="4.00" y="13.00" font-family='"Liberation Serif", serif' font-size="17" font-weight="normal" fill="#000" text-anchor="start" textLength="18.90" lengthAdjust="spacingAndGlyphs">(a)</text>
<text x="2.30" y="273.30" font-family='"Liberation Serif", serif' font-size="17" font-weight="normal" fill="#000" text-anchor="start" textLength="19.40" lengthAdjust="spacingAndGlyphs">(b)</text>
<text transform="translate(17.2,209.2) rotate(-90)" x="0" y="0" font-family='"Liberation Sans", sans-serif' font-size="13.2" font-weight="bold" textLength="151.20" lengthAdjust="spacingAndGlyphs">Transcondutance Gm (S)</text>
<text transform="translate(14.2,460.6) rotate(-90)" x="0" y="0" font-family='"Liberation Sans", sans-serif' font-size="13.2" font-weight="bold" textLength="154.10" lengthAdjust="spacingAndGlyphs">Transcondutance Gm (S)</text>
<text transform="scale(0.92,1)" x="127.28" y="264.90" font-family='"Liberation Sans", sans-serif' font-size="12.4" font-weight="bold" fill="#000" stroke="#000" stroke-width="0.06" textLength="148.59" lengthAdjust="spacing">Gate-Source Voltage V</text>
<text x="253.70" y="268.10" font-family='"Liberation Sans", sans-serif' font-size="10.8" font-weight="bold" fill="#000" text-anchor="start" textLength="16.60" lengthAdjust="spacingAndGlyphs" stroke="#000" stroke-width="0.2">GS</text>
<text x="271.00" y="265.10" font-family='"Liberation Sans", sans-serif' font-size="10.8" font-weight="bold" fill="#000" text-anchor="start" textLength="15.60" lengthAdjust="spacing" stroke="#000" stroke-width="0.2">(V)</text>
<text transform="scale(0.92,1)" x="141.30" y="516.80" font-family='"Liberation Sans", sans-serif' font-size="12.4" font-weight="bold" fill="#000" stroke="#000" stroke-width="0.06" textLength="148.15" lengthAdjust="spacing">Gate-Source Voltage V</text>
<text x="266.00" y="520.00" font-family='"Liberation Sans", sans-serif' font-size="10.8" font-weight="bold" fill="#000" text-anchor="start" textLength="17.30" lengthAdjust="spacingAndGlyphs" stroke="#000" stroke-width="0.2">GS</text>
<text x="283.30" y="517.00" font-family='"Liberation Sans", sans-serif' font-size="10.8" font-weight="bold" fill="#000" text-anchor="start" textLength="15.60" lengthAdjust="spacing" stroke="#000" stroke-width="0.2">(V)</text>
<text x="97.90" y="40.60" font-family='"Liberation Serif", serif' font-size="11.2" font-weight="normal" fill="#000" text-anchor="start" textLength="65.40" lengthAdjust="spacingAndGlyphs" stroke="#000" stroke-width="0.12">Low Vt Device</text>
<line x1="172" y1="38.4" x2="191.2" y2="38.4" stroke="#444" stroke-width="0.9"/>
<polygon points="168.2,38.5 172.8,36.8 172.8,40.2" fill="#000"/>
<ellipse cx="199.6" cy="39.1" rx="8.3" ry="9.3" fill="none" stroke="#444" stroke-width="0.9"/>
<text x="76.80" y="79.40" font-family='"Liberation Serif", serif' font-size="10.9" font-weight="normal" fill="#2a80d0" text-anchor="start" textLength="83.60" lengthAdjust="spacingAndGlyphs" stroke="#2a80d0" stroke-width="0.12">Standard Vt Device</text>
<line x1="147" y1="69.1" x2="172.8" y2="69.1" stroke="#2a80d0" stroke-width="0.9"/>
<polygon points="144,69.1 148.5,67.5 148.5,70.7" fill="#2a80d0"/>
<ellipse cx="180.2" cy="71.4" rx="5.5" ry="7.4" fill="none" stroke="#2a80d0" stroke-width="0.9"/>
<text x="105.90" y="298.00" font-family='"Liberation Serif", serif' font-size="11.2" font-weight="normal" fill="#000" text-anchor="start" textLength="65.50" lengthAdjust="spacingAndGlyphs" stroke="#000" stroke-width="0.12">Low Vt Device</text>
<line x1="178" y1="297.6" x2="194.9" y2="307.3" stroke="#333" stroke-width="0.9"/>
<polygon points="175.5,296.2 180.6,296.6 178.8,299.7" fill="#000"/>
<ellipse cx="200.3" cy="311.3" rx="8.3" ry="9.1" fill="none" stroke="#444" stroke-width="0.9"/>
<text x="87.70" y="324.60" font-family='"Liberation Serif", serif' font-size="10.9" font-weight="normal" fill="#2a80d0" text-anchor="start" textLength="83.70" lengthAdjust="spacingAndGlyphs" stroke="#2a80d0" stroke-width="0.12">Standard Vt Device</text>
<line x1="148.6" y1="332" x2="148.6" y2="342.5" stroke="#2a80d0" stroke-width="0.9"/>
<polygon points="148.6,328.9 147,333.2 150.2,333.2" fill="#2a80d0"/>
<ellipse cx="148.6" cy="347.1" rx="5.7" ry="7.1" fill="none" stroke="#2a80d0" stroke-width="0.9"/>
<text transform="scale(0.88,1)" x="259.77" y="34.70" font-family='"Liberation Sans", sans-serif' font-size="8.3" font-weight="bold" fill="#000" stroke="#000" stroke-width="0.1" textLength="41.39" lengthAdjust="spacing">P-FinFET</text>
<text transform="scale(0.88,1)" x="259.77" y="48.60" font-family='"Liberation Sans", sans-serif' font-size="8.3" font-weight="bold" fill="#000" stroke="#000" stroke-width="0.1" textLength="57.93" lengthAdjust="spacing">Fin=1 Device</text>
<text transform="scale(0.88,1)" x="259.77" y="62.60" font-family='"Liberation Sans", sans-serif' font-size="8.3" font-weight="bold" fill="#000" stroke="#000" stroke-width="0.1" textLength="77.58" lengthAdjust="spacing">L=20nm,W=10nm</text>
<text transform="scale(0.9,1)" x="254.11" y="77.40" font-family='"Liberation Sans", sans-serif' font-size="8.8" font-weight="bold" fill="#000" stroke="#000" stroke-width="0.12" textLength="26.33" lengthAdjust="spacing">HCI:V</text>
<text x="252.10" y="81.60" font-family='"Liberation Sans", sans-serif' font-size="7.6" font-weight="bold" fill="#000" text-anchor="start" textLength="6.20" lengthAdjust="spacingAndGlyphs" stroke="#000" stroke-width="0.12">G</text>
<text transform="scale(0.9,1)" x="286.78" y="77.40" font-family='"Liberation Sans", sans-serif' font-size="8.8" font-weight="bold" fill="#000" stroke="#000" stroke-width="0.12" textLength="42.89" lengthAdjust="spacing">=-1.25V,V</text>
<text x="296.60" y="81.60" font-family='"Liberation Sans", sans-serif' font-size="7.6" font-weight="bold" fill="#000" text-anchor="start" textLength="5.30" lengthAdjust="spacingAndGlyphs" stroke="#000" stroke-width="0.12">D</text>
<text transform="scale(0.9,1)" x="335.67" y="77.40" font-family='"Liberation Sans", sans-serif' font-size="8.8" font-weight="bold" fill="#000" stroke="#000" stroke-width="0.12" textLength="33.22" lengthAdjust="spacing">=-1.45V</text>
<text x="225.70" y="94.40" font-family='"Liberation Serif", serif' font-size="7.6000000000000005" font-weight="bold" fill="#111" textLength="9.8" lengthAdjust="spacingAndGlyphs">Δ<tspan font-style="italic">G</tspan></text>
<text x="236.00" y="98.60" font-family='"Liberation Serif", serif' font-size="7.4" font-weight="bold" fill="#111" text-anchor="start" textLength="6.90" lengthAdjust="spacingAndGlyphs" stroke="#111" stroke-width="0.2">M</text>
<text x="243.10" y="96.10" font-family='"Liberation Serif", serif' font-size="7.2" font-weight="bold" fill="#111" text-anchor="start" textLength="4.20" lengthAdjust="spacingAndGlyphs" stroke="#111" stroke-width="0.2">–</text>
<text transform="scale(0.86,1)" x="288.60" y="94.40" font-family='"Liberation Serif", serif' font-size="7.5" font-weight="bold" fill="#111" stroke="#111" stroke-width="0.05" textLength="93.84" lengthAdjust="spacing">Max=18.1% For Low Vt</text>
<text x="225.70" y="113.20" font-family='"Liberation Serif", serif' font-size="7.6000000000000005" font-weight="bold" fill="#0000ff" textLength="9.8" lengthAdjust="spacingAndGlyphs">Δ<tspan font-style="italic">G</tspan></text>
<text x="236.00" y="117.60" font-family='"Liberation Serif", serif' font-size="7.4" font-weight="bold" fill="#0000ff" text-anchor="start" textLength="6.90" lengthAdjust="spacingAndGlyphs" stroke="#0000ff" stroke-width="0.2">M</text>
<text x="243.10" y="114.90" font-family='"Liberation Serif", serif' font-size="7.2" font-weight="bold" fill="#0000ff" text-anchor="start" textLength="4.20" lengthAdjust="spacingAndGlyphs" stroke="#0000ff" stroke-width="0.2">–</text>
<text transform="scale(0.86,1)" x="288.60" y="113.20" font-family='"Liberation Serif", serif' font-size="7.5" font-weight="bold" fill="#0000ff" stroke="#0000ff" stroke-width="0.05" textLength="109.53" lengthAdjust="spacing">Max=8.3% For Standard Vt</text>
<line x1="232" y1="131.6" x2="253.5" y2="131.6" stroke="#555" stroke-width="1.1"/>
<rect x="240.90" y="129.50" width="4.2" height="4.2" fill="#000"/>
<text transform="scale(0.9,1)" x="284.78" y="134.90" font-family='"Liberation Sans", sans-serif' font-size="8.25" font-weight="bold" fill="#000" stroke="#000" stroke-width="0.12" textLength="55.53" lengthAdjust="spacing">Low Vt ,0sec</text>
<line x1="232" y1="143.5" x2="253.5" y2="143.5" stroke="#555" stroke-width="1.1"/>
<rect x="241.25" y="141.75" width="3.50" height="3.50" fill="#fff" stroke="#000" stroke-width="0.9"/>
<text transform="scale(0.9,1)" x="284.78" y="146.10" font-family='"Liberation Sans", sans-serif' font-size="8.25" font-weight="bold" fill="#000" stroke="#000" stroke-width="0.12" textLength="70.82" lengthAdjust="spacing">Low Vt ,3000sec</text>
<line x1="232" y1="155.6" x2="253.5" y2="155.6" stroke="#6a6aff" stroke-width="1.1"/>
<polygon points="243.00,151.75 246.05,157.25 239.95,157.25" fill="#0000ff"/>
<text transform="scale(0.9,1)" x="284.78" y="158.20" font-family='"Liberation Sans", sans-serif' font-size="8.25" font-weight="bold" fill="#000" stroke="#000" stroke-width="0.12" textLength="76.93" lengthAdjust="spacing">Standard Vt ,0sec</text>
<line x1="232" y1="167.5" x2="253.5" y2="167.5" stroke="#6a6aff" stroke-width="1.1"/>
<polygon points="243.00,164.50 245.55,169.30 240.45,169.30" fill="#fff" stroke="#0000ff" stroke-width="0.95"/>
<text transform="scale(0.9,1)" x="284.78" y="170.30" font-family='"Liberation Sans", sans-serif' font-size="8.25" font-weight="bold" fill="#000" stroke="#000" stroke-width="0.12" textLength="92.22" lengthAdjust="spacing">Standard Vt ,3000sec</text>
<text transform="scale(0.85,1)" x="267.76" y="294.00" font-family='"Liberation Sans", sans-serif' font-size="9.6" font-weight="bold" fill="#000" stroke="#000" stroke-width="0.1" textLength="46.72" lengthAdjust="spacing">P-FinFET</text>
<text transform="scale(0.85,1)" x="267.76" y="306.30" font-family='"Liberation Sans", sans-serif' font-size="9.6" font-weight="bold" fill="#000" stroke="#000" stroke-width="0.1" textLength="65.40" lengthAdjust="spacing">Fin=4 Device</text>
<text transform="scale(0.85,1)" x="267.76" y="318.40" font-family='"Liberation Sans", sans-serif' font-size="9.6" font-weight="bold" fill="#000" stroke="#000" stroke-width="0.1" textLength="87.57" lengthAdjust="spacing">L=20nm,W=10nm</text>
<text transform="scale(0.9,1)" x="252.78" y="330.90" font-family='"Liberation Sans", sans-serif' font-size="9.6" font-weight="bold" fill="#000" stroke="#000" stroke-width="0.12" textLength="28.11" lengthAdjust="spacing">HCI:V</text>
<text x="252.60" y="335.30" font-family='"Liberation Sans", sans-serif' font-size="8.2" font-weight="bold" fill="#000" text-anchor="start" textLength="6.80" lengthAdjust="spacingAndGlyphs" stroke="#000" stroke-width="0.12">G</text>
<text transform="scale(0.9,1)" x="289.11" y="330.90" font-family='"Liberation Sans", sans-serif' font-size="9.6" font-weight="bold" fill="#000" stroke="#000" stroke-width="0.12" textLength="48.22" lengthAdjust="spacing">=-1.25V,V</text>
<text x="303.20" y="335.30" font-family='"Liberation Sans", sans-serif' font-size="8.2" font-weight="bold" fill="#000" text-anchor="start" textLength="5.50" lengthAdjust="spacingAndGlyphs" stroke="#000" stroke-width="0.12">D</text>
<text transform="scale(0.9,1)" x="343.22" y="330.90" font-family='"Liberation Sans", sans-serif' font-size="9.6" font-weight="bold" fill="#000" stroke="#000" stroke-width="0.12" textLength="35.22" lengthAdjust="spacing">=-1.45V</text>
<text x="224.30" y="348.30" font-family='"Liberation Serif", serif' font-size="8.1" font-weight="bold" fill="#111" textLength="9.8" lengthAdjust="spacingAndGlyphs">Δ<tspan font-style="italic">G</tspan></text>
<text x="234.60" y="352.80" font-family='"Liberation Serif", serif' font-size="7.9" font-weight="bold" fill="#111" text-anchor="start" textLength="6.90" lengthAdjust="spacingAndGlyphs" stroke="#111" stroke-width="0.2">M</text>
<text x="241.70" y="350.00" font-family='"Liberation Serif", serif' font-size="7.7" font-weight="bold" fill="#111" text-anchor="start" textLength="4.20" lengthAdjust="spacingAndGlyphs" stroke="#111" stroke-width="0.2">–</text>
<text transform="scale(0.9,1)" x="272.67" y="348.30" font-family='"Liberation Serif", serif' font-size="8.0" font-weight="bold" fill="#111" stroke="#111" stroke-width="0.05" textLength="96.67" lengthAdjust="spacing">Max=12.81% For Low Vt</text>
<text x="224.30" y="368.00" font-family='"Liberation Serif", serif' font-size="8.1" font-weight="bold" fill="#0000ff" textLength="9.8" lengthAdjust="spacingAndGlyphs">Δ<tspan font-style="italic">G</tspan></text>
<text x="234.60" y="372.40" font-family='"Liberation Serif", serif' font-size="7.9" font-weight="bold" fill="#0000ff" text-anchor="start" textLength="6.90" lengthAdjust="spacingAndGlyphs" stroke="#0000ff" stroke-width="0.2">M</text>
<text x="241.70" y="369.70" font-family='"Liberation Serif", serif' font-size="7.7" font-weight="bold" fill="#0000ff" text-anchor="start" textLength="4.20" lengthAdjust="spacingAndGlyphs" stroke="#0000ff" stroke-width="0.2">–</text>
<text transform="scale(0.9,1)" x="272.67" y="368.00" font-family='"Liberation Serif", serif' font-size="8.0" font-weight="bold" fill="#0000ff" stroke="#0000ff" stroke-width="0.05" textLength="110.67" lengthAdjust="spacing">Max=7.73% For Standard Vt</text>
<line x1="232" y1="389" x2="249.8" y2="389" stroke="#555" stroke-width="1.1"/>
<rect x="238.90" y="386.90" width="4.2" height="4.2" fill="#000"/>
<text transform="scale(0.9,1)" x="281.00" y="391.40" font-family='"Liberation Sans", sans-serif' font-size="8.8" font-weight="bold" fill="#000" stroke="#000" stroke-width="0.12" textLength="59.23" lengthAdjust="spacing">Low Vt ,0sec</text>
<line x1="232" y1="400.5" x2="249.8" y2="400.5" stroke="#555" stroke-width="1.1"/>
<rect x="239.25" y="398.75" width="3.50" height="3.50" fill="#fff" stroke="#000" stroke-width="0.9"/>
<text transform="scale(0.9,1)" x="281.00" y="402.30" font-family='"Liberation Sans", sans-serif' font-size="8.8" font-weight="bold" fill="#000" stroke="#000" stroke-width="0.12" textLength="75.54" lengthAdjust="spacing">Low Vt ,3000sec</text>
<line x1="232" y1="411.8" x2="249.8" y2="411.8" stroke="#6a6aff" stroke-width="1.1"/>
<polygon points="241.00,407.95 244.05,413.45 237.95,413.45" fill="#0000ff"/>
<text transform="scale(0.9,1)" x="281.00" y="414.30" font-family='"Liberation Sans", sans-serif' font-size="8.8" font-weight="bold" fill="#000" stroke="#000" stroke-width="0.12" textLength="82.06" lengthAdjust="spacing">Standard Vt ,0sec</text>
<line x1="232" y1="423.2" x2="249.8" y2="423.2" stroke="#6a6aff" stroke-width="1.1"/>
<polygon points="241.00,420.20 243.55,425.00 238.45,425.00" fill="#fff" stroke="#0000ff" stroke-width="0.95"/>
<text transform="scale(0.9,1)" x="281.00" y="425.70" font-family='"Liberation Sans", sans-serif' font-size="8.8" font-weight="bold" fill="#000" stroke="#000" stroke-width="0.12" textLength="98.37" lengthAdjust="spacing">Standard Vt ,3000sec</text>
</svg>
</body></html>
